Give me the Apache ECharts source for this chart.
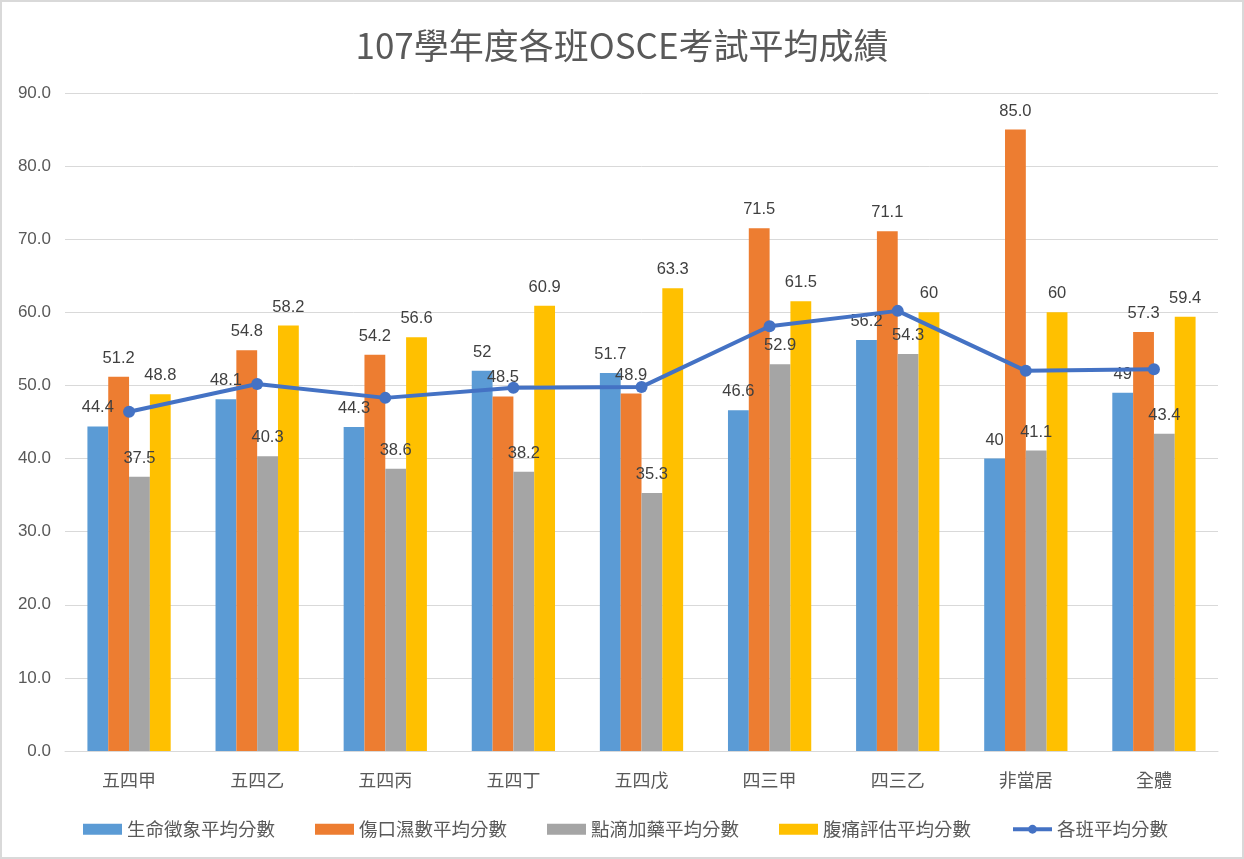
<!DOCTYPE html>
<html>
<head>
<meta charset="utf-8">
<title>107學年度各班OSCE考試平均成績</title>
<script src="https://cdn.jsdelivr.net/npm/echarts@6/dist/echarts.min.js"></script>
<style>
  html, body { margin: 0; padding: 0; background: #fff; }
  #chart { width: 1244px; height: 859px; box-sizing: border-box; border: 2px solid #d9d9d9; }
</style>
</head>
<body>
<div id="chart"></div>
<script>
// 各班 OSCE 成績（數值照圖上標籤讀取）
var classes = ['五四甲', '五四乙', '五四丙', '五四丁', '五四戊', '四三甲', '四三乙', '非當居', '全體']
var vitalSigns = ['44.4', '48.1', '44.3', '52', '51.7', '46.6', '56.2', '40', '49']
var woundCare = ['51.2', '54.8', '54.2', '48.5', '48.9', '71.5', '71.1', '85.0', '57.3']
var ivMedication = ['37.5', '40.3', '38.6', '38.2', '35.3', '52.9', '54.3', '41.1', '43.4']
var abdominalPain = ['48.8', '58.2', '56.6', '60.9', '63.3', '61.5', '60', '60', '59.4']
// 折線沒有標籤，依圖上點位估計
var classAverage = [46.4, 50.2, 48.3, 49.7, 49.8, 58.1, 60.2, 52.0, 52.2]
var yTicks = { min: 0, max: 90, interval: 10 }

var cjk = '"Noto Sans CJK TC", "Noto Sans CJK SC", sans-serif'
var latin = '"Liberation Sans", Arial, sans-serif'

function barSeries(name, color, values) {
    return {
        name: name,
        type: 'bar',
        barGap: '0%',
        barCategoryGap: '35%',
        itemStyle: { color: color },
        label: {
            show: true,
            position: 'top',
            distance: 10,
            color: '#404040',
            fontSize: 16.5,
            fontFamily: latin,
            // 用原始字串，保留 85.0 / 52 這類寫法
            formatter: function (p) { return values[p.dataIndex] }
        },
        data: values.map(Number)
    }
}

var chart = echarts.init(document.getElementById('chart'))
var option = {
    backgroundColor: '#fff',
    animation: false,
    title: {
        text: '107學年度各班OSCE考試平均成績',
        left: 'center',
        top: 21,
        textStyle: { color: '#595959', fontSize: 35, fontWeight: 'normal', fontFamily: cjk }
    },
    legend: {
        left: 76,
        top: 813,
        itemWidth: 39,
        itemHeight: 11,
        itemGap: 40,
        textStyle: { color: '#595959', fontSize: 18.5, fontFamily: cjk },
        data: [
            { name: '生命徵象平均分數', icon: 'rect' },
            { name: '傷口濕數平均分數', icon: 'rect' },
            { name: '點滴加藥平均分數', icon: 'rect' },
            { name: '腹痛評估平均分數', icon: 'rect' },
            { name: '各班平均分數', lineStyle: { width: 4 }, itemStyle: { color: '#4472C4' } }
        ]
    },
    grid: { left: 63, right: 24, top: 91, bottom: 106 },
    xAxis: {
        type: 'category',
        data: classes,
        axisTick: { show: false },
        axisLine: { lineStyle: { color: '#d9d9d9', width: 1 } },
        axisLabel: { color: '#595959', fontSize: 18, fontFamily: cjk, margin: 20 }
    },
    yAxis: {
        type: 'value',
        min: yTicks.min,
        max: yTicks.max,
        interval: yTicks.interval,
        axisLine: { show: false },
        axisTick: { show: false },
        splitLine: { lineStyle: { color: '#d9d9d9', width: 1 } },
        axisLabel: {
            color: '#595959',
            fontSize: 17,
            fontFamily: latin,
            margin: 14,
            formatter: function (v) { return v.toFixed(1) }
        }
    },
    series: [
        barSeries('生命徵象平均分數', '#5B9BD5', vitalSigns),
        barSeries('傷口濕數平均分數', '#ED7D31', woundCare),
        barSeries('點滴加藥平均分數', '#A5A5A5', ivMedication),
        barSeries('腹痛評估平均分數', '#FFC000', abdominalPain),
        {
            name: '各班平均分數',
            type: 'line',
            z: 5,
            symbol: 'circle',
            symbolSize: 12,
            itemStyle: { color: '#4472C4' },
            lineStyle: { color: '#4472C4', width: 4 },
            data: classAverage
        }
    ]
}
chart.setOption(option)
</script>
</body>
</html>
